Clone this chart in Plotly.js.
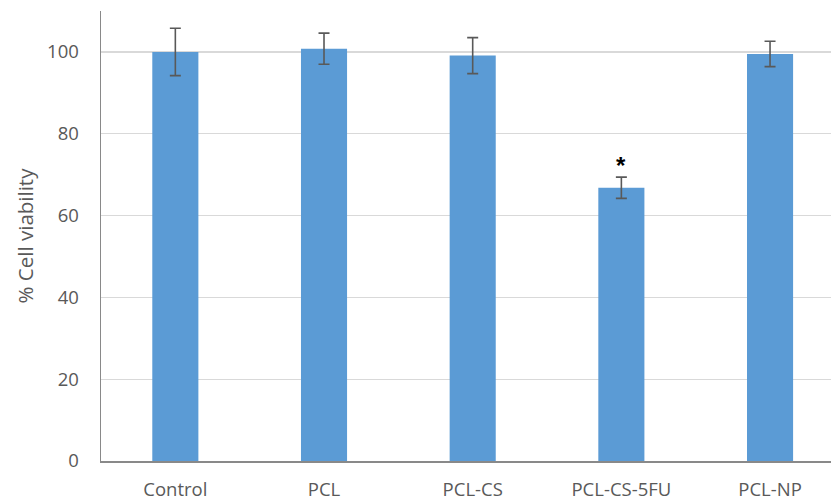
<!DOCTYPE html>
<html>
<head>
<meta charset="utf-8">
<script src="https://cdn.plot.ly/plotly-3.0.1.min.js"></script>
<style>html,body{margin:0;padding:0;background:#fff;}#chart{width:831px;height:500px;}</style>
</head>
<body>
<div id="chart"></div>
<script>
const categories = ["Control", "PCL", "PCL-CS", "PCL-CS-5FU", "PCL-NP"];
const viability = [100.0, 100.8, 99.1, 66.8, 99.5];
const errors = [5.8, 3.8, 4.4, 2.6, 3.1];
const significance = ["", "", "", "*", ""];
const yTicks = [0, 20, 40, 60, 80, 100];

const trace = {
  type: "bar",
  x: categories,
  y: viability,
  width: 0.31,
  marker: {color: "#5b9bd5", line: {width: 0}},
  error_y: {type: "data", array: errors, visible: true, color: "#595959", thickness: 1.6, width: 5.5},
  hoverinfo: "none"
};

const annotations = categories.map((c, i) => significance[i] ? {
  x: c, y: viability[i] + errors[i], yref: "y", xref: "x",
  text: "<b>" + significance[i] + "</b>", showarrow: false, yanchor: "bottom", yshift: -4,
  font: {family: "Liberation Sans, Arial, sans-serif", size: 24, color: "#000"}
} : null).filter(a => a);

const layout = {
  width: 831, height: 500,
  margin: {l: 101, r: 0, t: 11, b: 39},
  paper_bgcolor: "#fff", plot_bgcolor: "#fff",
  font: {family: "'Open Sans', sans-serif", color: "#595959", size: 19},
  showlegend: false,
  xaxis: {
    range: [-0.5, 4.41],
    showline: true, linecolor: "#898989", linewidth: 1.5,
    ticks: "", ticklabelstandoff: 11,
    tickfont: {size: 18.5, color: "#595959"},
    showgrid: false, zeroline: false
  },
  yaxis: {
    range: [0, 110],
    tickvals: yTicks,
    ticktext: yTicks.map(String),
    showline: true, linecolor: "#898989", linewidth: 1.5,
    showgrid: true, gridcolor: "#d9d9d9", gridwidth: 1.3,
    zeroline: false,
    ticks: "", ticklabelstandoff: 17,
    tickfont: {size: 18.5, color: "#595959"},
    title: {text: "% Cell viability", font: {size: 20.5, color: "#595959"}, standoff: 8}
  },
  annotations: annotations
};

Plotly.newPlot("chart", [trace], layout, {displayModeBar: false, staticPlot: true});
</script>
</body>
</html>
